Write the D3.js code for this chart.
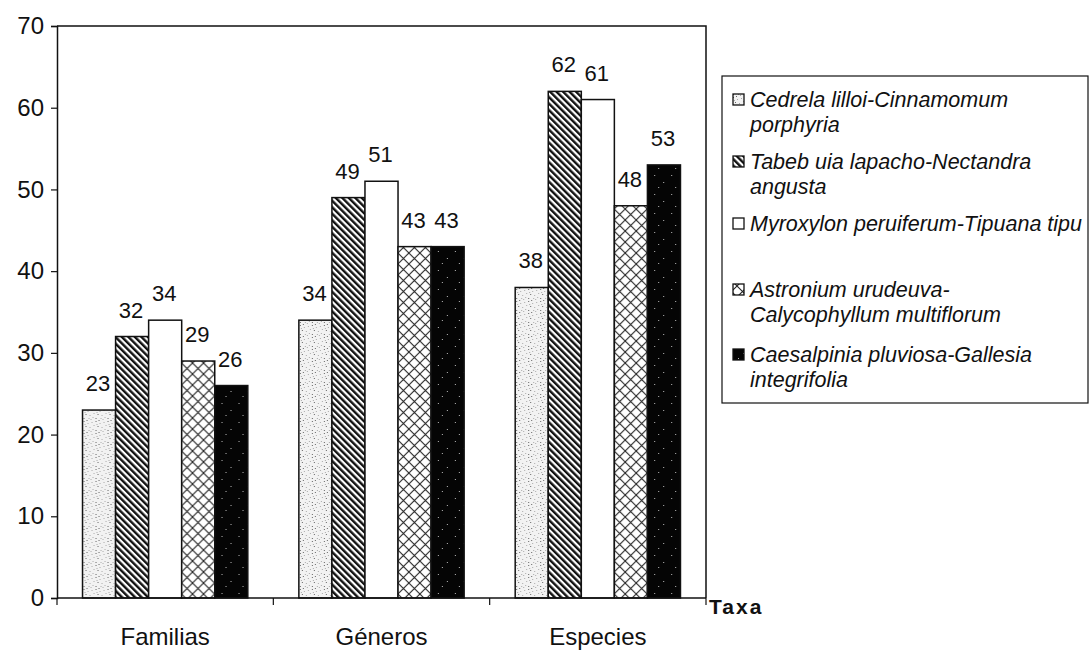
<!DOCTYPE html>
<html>
<head>
<meta charset="utf-8">
<script src="https://cdn.jsdelivr.net/npm/d3@7/dist/d3.min.js"></script>
<style>
  html, body { margin: 0; padding: 0; background: #fff; }
  svg { display: block; }
  text { font-family: "Liberation Sans", Arial, sans-serif; fill: #111; }
</style>
</head>
<body>
<svg id="chart" width="1091" height="650"></svg>
<script>
// Taxonomic richness per forest community
const categories = ["Familias", "Géneros", "Especies"];
const seriesNames = [
  ["Cedrela lilloi-Cinnamomum", "porphyria"],
  ["Tabeb uia lapacho-Nectandra", "angusta"],
  ["Myroxylon peruiferum-Tipuana tipu"],
  ["Astronium urudeuva-", "Calycophyllum multiflorum"],
  ["Caesalpinia pluviosa-Gallesia", "integrifolia"]
];
const cedrela    = [23, 34, 38];
const tabebuia   = [32, 49, 62];
const myroxylon  = [34, 51, 61];
const astronium  = [29, 43, 48];
const caesalpinia = [26, 43, 53];
const yTicks = [0, 10, 20, 30, 40, 50, 60, 70];
const axisTitle = "Taxa";

const seriesValues = [cedrela, tabebuia, myroxylon, astronium, caesalpinia];
const fills = ["url(#stipple)", "url(#stripes)", "#ffffff", "url(#cross)", "url(#blackspeck)"];

const svg = d3.select("#chart");
const plot = { left: 57, right: 706, top: 26, bottom: 598 };

// ---- fill patterns ----
const defs = svg.append("defs");

// light grey stipple
const st = defs.append("pattern").attr("id", "stipple")
  .attr("patternUnits", "userSpaceOnUse").attr("width", 12).attr("height", 12);
st.append("rect").attr("width", 12).attr("height", 12).attr("fill", "#f2f2f2");
[[1,1],[5,3],[9,2],[3,6],[7,7],[11,5],[1,10],[6,10],[10,9],[4,0],[8,11],[2,4]].forEach(([x, y], i) => {
  st.append("rect").attr("x", x).attr("y", y).attr("width", 1).attr("height", 1)
    .attr("fill", i % 3 === 0 ? "#666" : "#aaa");
});

// dense diagonal stripes (top-left to bottom-right)
const sp = defs.append("pattern").attr("id", "stripes")
  .attr("patternUnits", "userSpaceOnUse").attr("width", 4.6).attr("height", 4.6)
  .attr("patternTransform", "rotate(-45)");
sp.append("rect").attr("width", 4.6).attr("height", 4.6).attr("fill", "#fff");
sp.append("rect").attr("x", 0).attr("width", 2.4).attr("height", 4.6).attr("fill", "#111");

// diamond cross-hatch
const cr = defs.append("pattern").attr("id", "cross")
  .attr("patternUnits", "userSpaceOnUse").attr("width", 11).attr("height", 11);
cr.append("rect").attr("width", 11).attr("height", 11).attr("fill", "#fff");
cr.append("path").attr("d", "M0,0L11,11M11,0L0,11")
  .attr("stroke", "#222").attr("stroke-width", 1.1).attr("fill", "none");

// black with faint specks
const bk = defs.append("pattern").attr("id", "blackspeck")
  .attr("patternUnits", "userSpaceOnUse").attr("width", 17).attr("height", 19);
bk.append("rect").attr("width", 17).attr("height", 19).attr("fill", "#050505");
[[3,4],[12,11],[7,16]].forEach(([x, y]) => {
  bk.append("rect").attr("x", x).attr("y", y).attr("width", 1).attr("height", 1).attr("fill", "#bbb");
});

// ---- scales ----
const x0 = d3.scaleBand().domain(categories)
  .range([plot.left, plot.right]).paddingInner(0.236).paddingOuter(0.118);
const x1 = d3.scaleBand().domain(d3.range(seriesValues.length))
  .range([0, x0.bandwidth()]).padding(0);
const y = d3.scaleLinear().domain([0, 70]).range([plot.bottom, plot.top]);

// ---- plot frame (top and right) ----
svg.append("path")
  .attr("d", `M${plot.left},${plot.top}H${plot.right}V${plot.bottom}`)
  .attr("fill", "none").attr("stroke", "#111").attr("stroke-width", 1.5);

// ---- bars ----
const groups = svg.append("g").selectAll("g").data(categories).join("g")
  .attr("transform", d => `translate(${x0(d)},0)`);

groups.each(function(cat, ci) {
  const g = d3.select(this);
  seriesValues.forEach((vals, si) => {
    const v = vals[ci];
    g.append("rect")
      .attr("x", x1(si)).attr("y", y(v))
      .attr("width", x1.bandwidth()).attr("height", y(0) - y(v))
      .attr("fill", fills[si]).attr("stroke", "#111").attr("stroke-width", 1.5);
    g.append("text")
      .attr("x", x1(si) + x1.bandwidth() / 2 - 1).attr("y", y(v) - 19)
      .attr("text-anchor", "middle").attr("font-size", 22)
      .text(v);
  });
});

// ---- y axis ----
const yAxis = d3.axisLeft(y).tickValues(yTicks).tickSize(6).tickPadding(7);
const gy = svg.append("g").attr("transform", `translate(${plot.left},0)`).call(yAxis);
gy.select(".domain").attr("stroke", "#111").attr("stroke-width", 1.5);
gy.selectAll(".tick line").attr("stroke", "#111").attr("stroke-width", 1.2);
gy.selectAll(".tick text").attr("font-size", 24).attr("fill", "#111")
  .attr("font-family", "Liberation Sans, Arial, sans-serif");

// ---- x axis ----
const gx = svg.append("g").attr("transform", `translate(0,${plot.bottom})`);
gx.append("line").attr("x1", plot.left).attr("x2", plot.right)
  .attr("stroke", "#111").attr("stroke-width", 1.5);
const bounds = [plot.left, ...categories.map(c => x0(c) + x0.bandwidth() + x0.step() * 0.118)];
gx.selectAll("line.tk").data(bounds).join("line").attr("class", "tk")
  .attr("x1", d => d).attr("x2", d => d).attr("y1", 0).attr("y2", 7)
  .attr("stroke", "#111").attr("stroke-width", 1.2);
gx.selectAll("text.cat").data(categories).join("text").attr("class", "cat")
  .attr("x", d => x0(d) + x0.bandwidth() / 2).attr("y", 47)
  .attr("text-anchor", "middle").attr("font-size", 24).text(d => d);

svg.append("text").attr("x", 709).attr("y", 614)
  .attr("font-size", 21).attr("font-weight", "bold").attr("letter-spacing", 2)
  .text(axisTitle);

// ---- legend ----
const legend = svg.append("g");
legend.append("rect").attr("x", 722).attr("y", 76).attr("width", 366).attr("height", 327)
  .attr("fill", "#fff").attr("stroke", "#111").attr("stroke-width", 1.2);
const firstLineY = [100, 162, 224, 290, 355];
seriesNames.forEach((lines, i) => {
  const cy = firstLineY[i];
  legend.append("rect").attr("x", 733).attr("y", cy - 6).attr("width", 11).attr("height", 11)
    .attr("fill", fills[i]).attr("stroke", "#111").attr("stroke-width", 1.3);
  lines.forEach((ln, j) => {
    legend.append("text").attr("x", 750).attr("y", cy + 7 + j * 25)
      .attr("font-size", 21.5).attr("font-style", "italic").text(ln);
  });
});
</script>
</body>
</html>
